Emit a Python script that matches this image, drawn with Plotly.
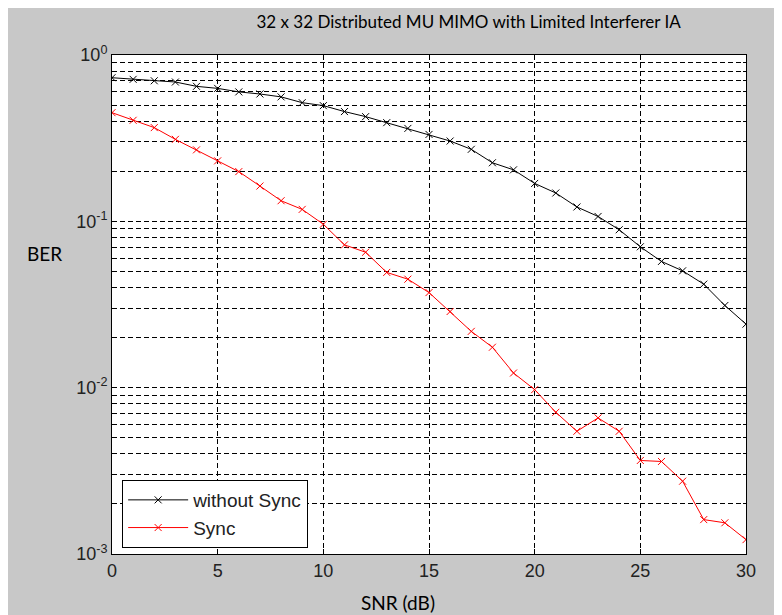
import plotly.graph_objects as go

snr = list(range(0, 31))
ber_without_sync = [0.73, 0.714, 0.70, 0.688, 0.648, 0.63, 0.60, 0.583, 0.56, 0.517,
                    0.496, 0.457, 0.426, 0.392, 0.362, 0.333, 0.304, 0.271, 0.225, 0.204,
                    0.169, 0.148, 0.122, 0.107, 0.089, 0.0703, 0.0574, 0.0504, 0.0419, 0.0312,
                    0.0241]
ber_sync = [0.45, 0.405, 0.366, 0.311, 0.269, 0.231, 0.199, 0.163, 0.133, 0.118,
            0.096, 0.0722, 0.0652, 0.0493, 0.0449, 0.0373, 0.0287, 0.0218, 0.0175, 0.01225,
            0.00973, 0.00711, 0.00547, 0.00658, 0.00547, 0.00365, 0.0036, 0.00274, 0.00161, 0.00154,
            0.00122]
x_ticks = [0, 5, 10, 15, 20, 25, 30]
y_tickvals = [1, 0.1, 0.01, 0.001]
y_ticktext = ["10<sup>0</sup>", "10<sup>-1</sup>", "10<sup>-2</sup>", "10<sup>-3</sup>"]

fig = go.Figure()
fig.add_trace(go.Scatter(x=snr, y=ber_without_sync, mode="lines+markers", name="without Sync",
                         line=dict(color="black", width=1),
                         marker=dict(symbol="x-thin", size=7, line=dict(color="black", width=1))))
fig.add_trace(go.Scatter(x=snr, y=ber_sync, mode="lines+markers", name="Sync",
                         line=dict(color="red", width=1),
                         marker=dict(symbol="x-thin", size=7, line=dict(color="red", width=1))))

grid_dash = "5px,3px"
tick_font = dict(family="Liberation Sans, Arial, sans-serif", size=18, color="#222222")
label_font = dict(family="Lato, Open Sans, sans-serif", size=19, color="black")
fig.update_layout(
    width=782, height=615,
    paper_bgcolor="#c8c8c8", plot_bgcolor="white",
    margin=dict(l=104, r=44, t=47, b=69),
    title=dict(text="32 x 32 Distributed MU MIMO with Limited Interferer IA",
               x=0.589, xanchor="center", y=0.977, yanchor="middle",
               font=dict(family="Lato, Open Sans, sans-serif", size=17, color="black")),
    showlegend=True,
    legend=dict(x=0.016, y=0.012, xanchor="left", yanchor="bottom",
                bgcolor="white", bordercolor="black", borderwidth=1,
                font=dict(family="Liberation Sans, Arial, sans-serif", size=19, color="#222222"),
                itemwidth=60),
    xaxis=dict(range=[0, 30], tickvals=x_ticks, showgrid=True, gridcolor="black",
               griddash=grid_dash, gridwidth=1, zeroline=False,
               showline=True, linecolor="black", linewidth=1, mirror="ticks",
               ticks="inside", ticklen=5, tickcolor="black", tickfont=tick_font),
    yaxis=dict(type="log", range=[-3, 0], tickvals=y_tickvals, ticktext=y_ticktext,
               showgrid=True, gridcolor="black", griddash=grid_dash, gridwidth=1,
               zeroline=False, showline=True, linecolor="black", linewidth=1, mirror="ticks",
               ticks="inside", ticklen=5, tickcolor="black", tickfont=tick_font,
               minor=dict(dtick="D1", showgrid=True, gridcolor="black", griddash=grid_dash,
                          gridwidth=1, ticks="inside", ticklen=3, tickcolor="black"))
)
fig.add_annotation(text="BER", xref="paper", yref="paper", x=-0.106, y=0.603,
                   xanchor="center", yanchor="middle", showarrow=False, font=label_font)
fig.add_annotation(text="SNR (dB)", xref="paper", yref="paper", x=0.451, y=-0.098,
                   xanchor="center", yanchor="middle", showarrow=False, font=label_font)

fig.write_html("out.html")
